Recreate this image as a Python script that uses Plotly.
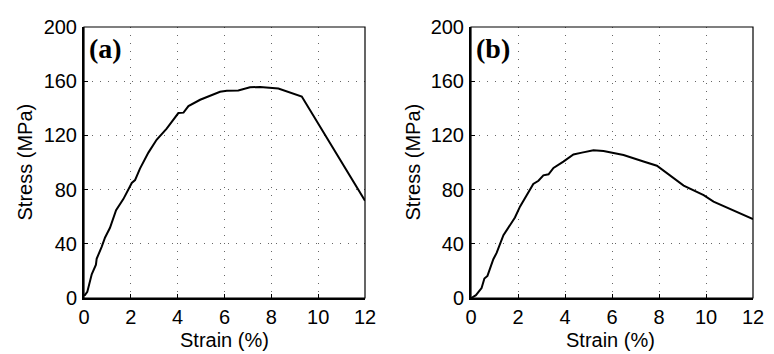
import plotly.graph_objects as go

strain_a = [0.0, 0.04, 0.14, 0.33, 0.51, 0.54, 0.75, 0.90, 1.11, 1.37, 1.68, 2.04, 2.18, 2.39,
            2.75, 3.10, 3.53, 3.82, 4.03, 4.25, 4.46, 4.96, 5.38, 5.81, 6.10, 6.59, 7.09, 7.52,
            8.30, 8.80, 9.30, 12.0]
stress_a = [2.0, 2.1, 4.5, 17.5, 24.6, 28.9, 37.6, 44.7, 51.8, 64.8, 73.0, 84.9, 87.0, 95.5,
            107.3, 116.8, 125.0, 132.1, 136.5, 136.8, 141.6, 146.3, 149.4, 152.2, 153.0, 153.2,
            155.5, 155.8, 154.6, 151.8, 148.7, 71.8]

strain_b = [0.0, 0.03, 0.21, 0.45, 0.57, 0.70, 0.95, 1.09, 1.38, 1.59, 1.87, 2.09, 2.37, 2.65,
            2.87, 3.08, 3.30, 3.51, 3.93, 4.36, 4.72, 5.21, 5.64, 6.49, 7.34, 7.91, 9.05, 9.90,
            10.32, 12.0]
stress_b = [0.0, 0.2, 2.1, 7.3, 14.4, 16.3, 28.6, 33.3, 46.3, 52.3, 59.4, 67.6, 75.9, 84.2,
            86.5, 90.5, 91.3, 96.0, 100.7, 105.9, 107.3, 109.0, 108.5, 105.5, 100.7, 97.6, 83.0,
            75.9, 71.1, 58.2]

x_ticks = [0, 2, 4, 6, 8, 10, 12]
y_ticks = [0, 40, 80, 120, 160, 200]
panel_labels = ["(a)", "(b)"]
x_title = "Strain (%)"
y_title = "Stress (MPa)"

# page body has an 8px margin; work in figure coordinates = page - 8
OFF = 8
W, H = 774 - OFF, 354 - OFF
L = 84 - OFF
T = 16 - OFF
R = W - (753 - OFF)
B = H - (298 - OFF)
pw = W - L - R
ph = H - T - B
dom1 = [0, (365 - 84) / pw]
dom2 = [(471 - 84) / pw, 1]

fig = go.Figure()
fig.add_trace(go.Scatter(x=strain_a, y=stress_a, mode="lines",
                         line=dict(color="black", width=2), xaxis="x", yaxis="y",
                         showlegend=False))
fig.add_trace(go.Scatter(x=strain_b, y=stress_b, mode="lines",
                         line=dict(color="black", width=2), xaxis="x2", yaxis="y2",
                         showlegend=False))

fam = "Liberation Sans, Arial, sans-serif"
font = dict(family=fam, size=20, color="black")

def xax(dom, anchor):
    return dict(domain=dom, anchor=anchor, range=[0, 12], tickvals=x_ticks,
                showline=True, linecolor="black", linewidth=2, mirror=False,
                ticks="inside", ticklen=4, tickcolor="black",
                showgrid=True, gridcolor="#666666", griddash="1px,7px", gridwidth=1,
                zeroline=False, tickfont=font, ticklabelstandoff=0,
                ticklabeloverflow="allow")

def yax(anchor):
    return dict(domain=[0, 1], anchor=anchor, range=[0, 200], tickvals=y_ticks,
                showline=True, linecolor="black", linewidth=2, mirror=False,
                ticks="inside", ticklen=4, tickcolor="black",
                showgrid=True, gridcolor="#666666", griddash="1px,7px", gridwidth=1,
                zeroline=False, tickfont=font, ticklabelstandoff=1,
                ticklabeloverflow="allow")

fig.update_layout(
    width=W, height=H,
    margin=dict(l=L, r=R, t=T, b=B),
    paper_bgcolor="white", plot_bgcolor="white",
    xaxis=xax(dom1, "y"), yaxis=yax("x"),
    xaxis2=xax(dom2, "y2"), yaxis2=yax("x2"),
)

# box frame (top/right thin edges)
for xr, yr in [("x", "y"), ("x2", "y2")]:
    fig.add_shape(type="rect", xref=xr + " domain", yref=yr + " domain",
                  x0=0, x1=1, y0=0, y1=1, line=dict(color="black", width=1.2),
                  layer="above")

# panel labels
for xr, yr, lab in [("x", "y", panel_labels[0]), ("x2", "y2", panel_labels[1])]:
    fig.add_annotation(xref=xr + " domain", yref=yr + " domain", x=0.01, y=0.985,
                       xanchor="left", yanchor="top", text="<b>" + lab + "</b>",
                       showarrow=False,
                       font=dict(family="Liberation Serif, Times New Roman, serif",
                                 size=28, color="black"))

# axis titles (page coordinates converted to paper fractions)
for cx in [224, 610]:
    fig.add_annotation(xref="paper", yref="paper", x=(cx - 84) / pw,
                       y=(298 - 342) / ph,
                       xanchor="center", yanchor="middle", text=x_title, showarrow=False,
                       font=dict(family=fam, size=20, color="black"))
for cx in [24, 412]:
    fig.add_annotation(xref="paper", yref="paper", x=(cx - 84) / pw, y=0.5,
                       xanchor="center", yanchor="middle", text=y_title, textangle=-90,
                       showarrow=False,
                       font=dict(family=fam, size=20, color="black"))

fig.write_html("out.html")
